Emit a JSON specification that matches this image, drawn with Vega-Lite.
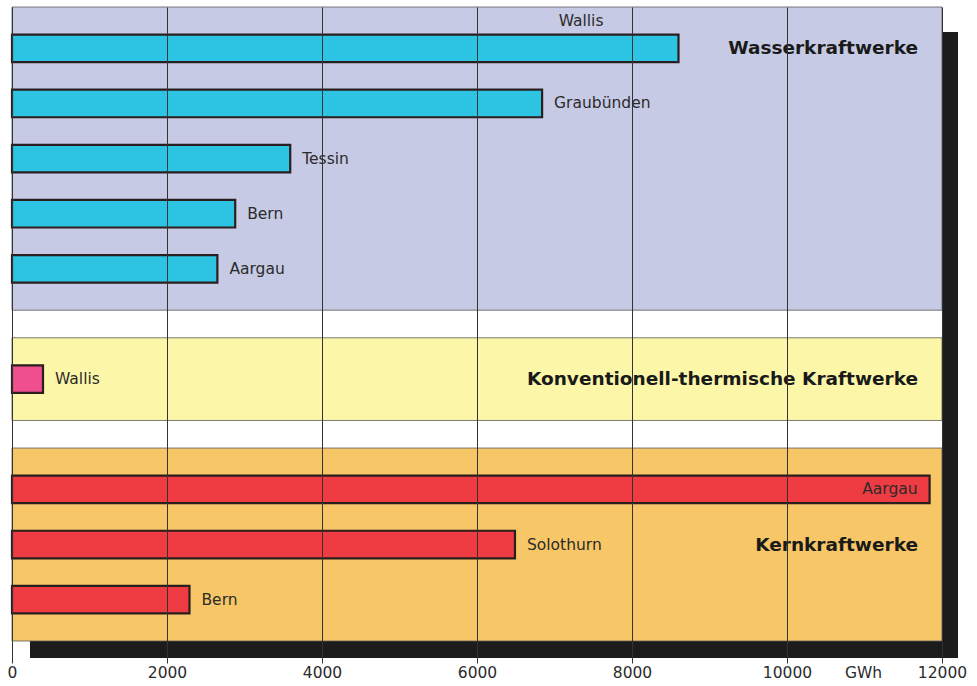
{
  "$schema": "https://vega.github.io/schema/vega-lite/v6.json",
  "width": 930,
  "height": 634,
  "autosize": {"type": "none"},
  "padding": {"left": 12, "top": 7, "right": 35, "bottom": 45},
  "background": "white",
  "config": {"view": {"stroke": null}, "font": "DejaVu Sans"},
  "datasets": {
    "werke": [
      {"id": "W-Wallis", "Art": "Wasserkraftwerke", "Kanton": "Wallis", "GWh": 8600},
      {"id": "W-Graubünden", "Art": "Wasserkraftwerke", "Kanton": "Graubünden", "GWh": 6840},
      {"id": "W-Tessin", "Art": "Wasserkraftwerke", "Kanton": "Tessin", "GWh": 3590},
      {"id": "W-Bern", "Art": "Wasserkraftwerke", "Kanton": "Bern", "GWh": 2880},
      {"id": "W-Aargau", "Art": "Wasserkraftwerke", "Kanton": "Aargau", "GWh": 2650},
      {"id": "T-Wallis", "Art": "Konventionell-thermische Kraftwerke", "Kanton": "Wallis", "GWh": 400},
      {"id": "K-Aargau", "Art": "Kernkraftwerke", "Kanton": "Aargau", "GWh": 11840},
      {"id": "K-Solothurn", "Art": "Kernkraftwerke", "Kanton": "Solothurn", "GWh": 6490},
      {"id": "K-Bern", "Art": "Kernkraftwerke", "Kanton": "Bern", "GWh": 2290}
    ],
    "abschnitte": [
      {"Abschnitt": "Wasserkraftwerke", "erste": "W-Wallis", "letzte": "W-Aargau", "Titelzeile": "W-Wallis"},
      {"Abschnitt": "Konventionell-thermische Kraftwerke", "erste": "T-Wallis", "letzte": "T-Wallis", "Titelzeile": "T-Wallis"},
      {"Abschnitt": "Kernkraftwerke", "erste": "K-Aargau", "letzte": "K-Bern", "Titelzeile": "K-Solothurn"}
    ],
    "rahmen": [
      {"erste": "W-Wallis", "letzte": "K-Bern"}
    ]
  },
  "layer": [
    {
      "data": {"name": "rahmen"},
      "mark": {"type": "rect", "color": "#1c1c1c", "xOffset": 18, "x2Offset": 16, "yOffset": 25, "y2Offset": 17},
      "encoding": {
        "x": {"datum": 0, "type": "quantitative",
          "scale": {"domain": [0, 12000], "nice": false, "zero": true},
          "axis": {
            "title": "GWh",
            "values": [0, 2000, 4000, 6000, 8000, 10000, 12000],
            "format": "d",
            "grid": true, "gridColor": "#333333", "gridWidth": 1,
            "domain": false,
            "ticks": true, "tickColor": "#333333", "tickSize": 22, "tickWidth": 1,
            "labelPadding": 2, "labelFont": "DejaVu Sans", "labelFontSize": 15.5,
            "labelColor": "#2b2b2b", "labelFlush": false, "labelOverlap": false,
            "titleX": 851, "titleY": 24, "titleBaseline": "top", "titleAlign": "center",
            "titleFont": "DejaVu Sans", "titleFontSize": 15.5, "titleFontWeight": "normal",
            "titleColor": "#2b2b2b",
            "zindex": 1
          }
        },
        "x2": {"datum": 12000},
        "y": {"field": "erste", "type": "nominal", "bandPosition": -1, "axis": null,
          "scale": {"type": "band", "paddingInner": 0.5, "paddingOuter": 0.5,
            "domain": ["W-Wallis", "W-Graubünden", "W-Tessin", "W-Bern", "W-Aargau", "Lücke 1", "T-Wallis", "Lücke 2", "K-Aargau", "K-Solothurn", "K-Bern"]}},
        "y2": {"field": "letzte", "bandPosition": 2}
      }
    },
    {
      "data": {"name": "rahmen"},
      "mark": {"type": "rect", "color": "#ffffff"},
      "encoding": {
        "x": {"datum": 0, "type": "quantitative"},
        "x2": {"datum": 12000},
        "y": {"field": "erste", "type": "nominal", "bandPosition": -1},
        "y2": {"field": "letzte", "bandPosition": 2}
      }
    },
    {
      "data": {"name": "abschnitte"},
      "mark": {"type": "rect", "stroke": "#5a5a5a", "strokeWidth": 0.8},
      "encoding": {
        "x": {"datum": 0, "type": "quantitative"},
        "x2": {"datum": 12000},
        "y": {"field": "erste", "type": "nominal", "bandPosition": -1},
        "y2": {"field": "letzte", "bandPosition": 2},
        "fill": {"field": "Abschnitt", "type": "nominal", "legend": null,
          "scale": {"domain": ["Wasserkraftwerke", "Konventionell-thermische Kraftwerke", "Kernkraftwerke"],
            "range": ["#c7cae4", "#fcf7a8", "#f7c666"]}}
      }
    },
    {
      "data": {"name": "werke"},
      "mark": {"type": "bar", "stroke": "#2a1e1e", "strokeWidth": 2.2},
      "encoding": {
        "x": {"field": "GWh", "type": "quantitative"},
        "y": {"field": "id", "type": "nominal"},
        "color": {"field": "Art", "type": "nominal", "legend": null,
          "scale": {"domain": ["Wasserkraftwerke", "Konventionell-thermische Kraftwerke", "Kernkraftwerke"],
            "range": ["#2cc4e2", "#ef4f8c", "#ef3b42"]}}
      }
    },
    {
      "data": {"name": "werke"},
      "transform": [{"filter": "datum.id !== 'W-Wallis' && datum.id !== 'K-Aargau'"}],
      "mark": {"type": "text", "align": "left", "baseline": "middle", "dx": 12, "fontSize": 15.5, "color": "#2b2b2b"},
      "encoding": {
        "x": {"field": "GWh", "type": "quantitative"},
        "y": {"field": "id", "type": "nominal"},
        "text": {"field": "Kanton"}
      }
    },
    {
      "data": {"name": "werke"},
      "transform": [{"filter": "datum.id === 'W-Wallis'"}],
      "mark": {"type": "text", "align": "right", "baseline": "middle", "dx": -75, "dy": -27, "fontSize": 15.5, "color": "#2b2b2b"},
      "encoding": {
        "x": {"field": "GWh", "type": "quantitative"},
        "y": {"field": "id", "type": "nominal"},
        "text": {"field": "Kanton"}
      }
    },
    {
      "data": {"name": "werke"},
      "transform": [{"filter": "datum.id === 'K-Aargau'"}],
      "mark": {"type": "text", "align": "right", "baseline": "middle", "dx": -12, "fontSize": 15.5, "color": "#2b2b2b"},
      "encoding": {
        "x": {"field": "GWh", "type": "quantitative"},
        "y": {"field": "id", "type": "nominal"},
        "text": {"field": "Kanton"}
      }
    },
    {
      "data": {"name": "abschnitte"},
      "mark": {"type": "text", "align": "right", "baseline": "middle", "dx": -24, "fontSize": 18.5, "fontWeight": "bold", "color": "#1a1a1a"},
      "encoding": {
        "x": {"datum": 12000, "type": "quantitative"},
        "y": {"field": "Titelzeile", "type": "nominal"},
        "text": {"field": "Abschnitt"}
      }
    }
  ]
}
